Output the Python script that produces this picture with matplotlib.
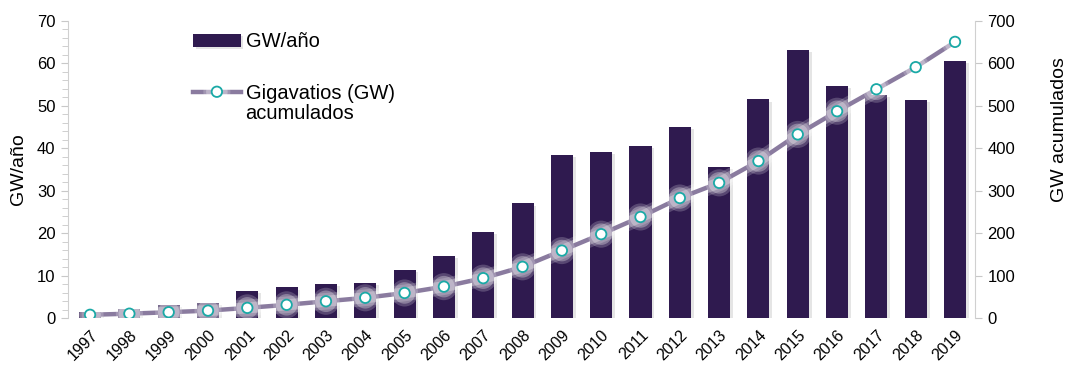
import matplotlib.pyplot as plt
import matplotlib.patheffects as pe
from matplotlib.ticker import MultipleLocator

plt.rcParams['font.family'] = ['Liberation Sans', 'DejaVu Sans']

years = ['1997', '1998', '1999', '2000', '2001', '2002', '2003', '2004', '2005',
         '2006', '2007', '2008', '2009', '2010', '2011', '2012', '2013', '2014',
         '2015', '2016', '2017', '2018', '2019']
gw_anual = [1.5, 2.1, 3.1, 3.5, 6.4, 7.2, 8.1, 8.2, 11.4, 14.6, 20.2, 27.0, 38.5,
            39.1, 40.6, 45.1, 35.7, 51.5, 63.2, 54.6, 52.5, 51.4, 60.5]
gw_acumulados = [7.6, 10.2, 13.6, 17.4, 23.9, 31.1, 39.4, 47.6, 59.0, 73.9, 93.9,
                 120.6, 158.9, 197.6, 238.1, 282.8, 318.5, 369.9, 432.7, 487.3,
                 539.1, 591.2, 650.8]

bar_color = '#2f1a4f'
line_color = '#8a7b9f'
marker_edge = '#1aa9a6'
x = list(range(len(years)))

W, H = 1068, 367
fig = plt.figure(figsize=(W / 100, H / 100), dpi=100)
ax = fig.add_axes([0.0637, 0.1335, 0.8493, 0.8093])
ax2 = ax.twinx()

bars = ax.bar(x, gw_anual, width=0.56, color=bar_color, label='GW/año', zorder=2)
for b in bars:
    b.set_path_effects([pe.SimplePatchShadow(offset=(2, -1.5), shadow_rgbFace='#999999', alpha=0.25),
                        pe.Normal()])

ax2.plot(x, gw_acumulados, color=line_color, lw=3.2, marker='o', ms=7.5,
         markerfacecolor='white', markeredgecolor=marker_edge, markeredgewidth=1.3,
         label='Gigavatios (GW)', zorder=3,
         path_effects=[pe.Stroke(linewidth=12, foreground='white', alpha=0.2),
                       pe.Stroke(linewidth=8, foreground='white', alpha=0.3),
                       pe.Normal()])

ax.set_xlim(-0.56, 22.51)
ax.set_ylim(0, 70)
ax2.set_ylim(0, 700)

ax.yaxis.set_major_locator(MultipleLocator(10))
ax.yaxis.set_minor_locator(MultipleLocator(2))
ax2.yaxis.set_major_locator(MultipleLocator(100))

for a in (ax, ax2):
    a.spines['top'].set_visible(False)
    a.spines['bottom'].set_visible(False)
    a.spines['left'].set_color('#d0d0d0')
    a.spines['right'].set_color('#d0d0d0')
ax.spines['right'].set_visible(False)
ax2.spines['left'].set_visible(False)

ax.tick_params(axis='y', which='major', length=5, color='#c8c8c8', labelsize=12, pad=4)
ax.tick_params(axis='y', which='minor', length=4, color='#c8c8c8')
ax2.tick_params(axis='y', which='major', length=5, color='#c8c8c8', labelsize=12, pad=4)
ax.tick_params(axis='x', length=0, labelsize=11.5, pad=7)

ax.set_xticks(x)
ax.set_xticklabels(years, rotation=45, ha='right', rotation_mode='anchor')

# axis titles
fig.text(19 / W, 1 - 169 / H, 'GW/año', fontsize=14, rotation=90, ha='center', va='center')
fig.text(1060 / W, 1 - 130 / H, 'GW acumulados', fontsize=14, rotation=90,
         ha='center', va='center')

h1, l1 = ax.get_legend_handles_labels()
h2, l2 = ax2.get_legend_handles_labels()
leg = ax2.legend(h1 + h2, l1 + l2, loc='upper left', bbox_to_anchor=(0.138, 0.962),
                 frameon=False, fontsize=14.5, handlelength=2.35, handletextpad=0.25,
                 labelspacing=1.6, handleheight=0.6, borderpad=0, borderaxespad=0)

# second line of the cumulative label, set under the legend entry
fig.canvas.draw()
bb = leg.get_texts()[1].get_window_extent().transformed(fig.transFigure.inverted())
fig.text(bb.x0, bb.y0 - 0.004, 'acumulados', fontsize=14.5, ha='left', va='top')

fig.savefig('out.png', dpi=100)
